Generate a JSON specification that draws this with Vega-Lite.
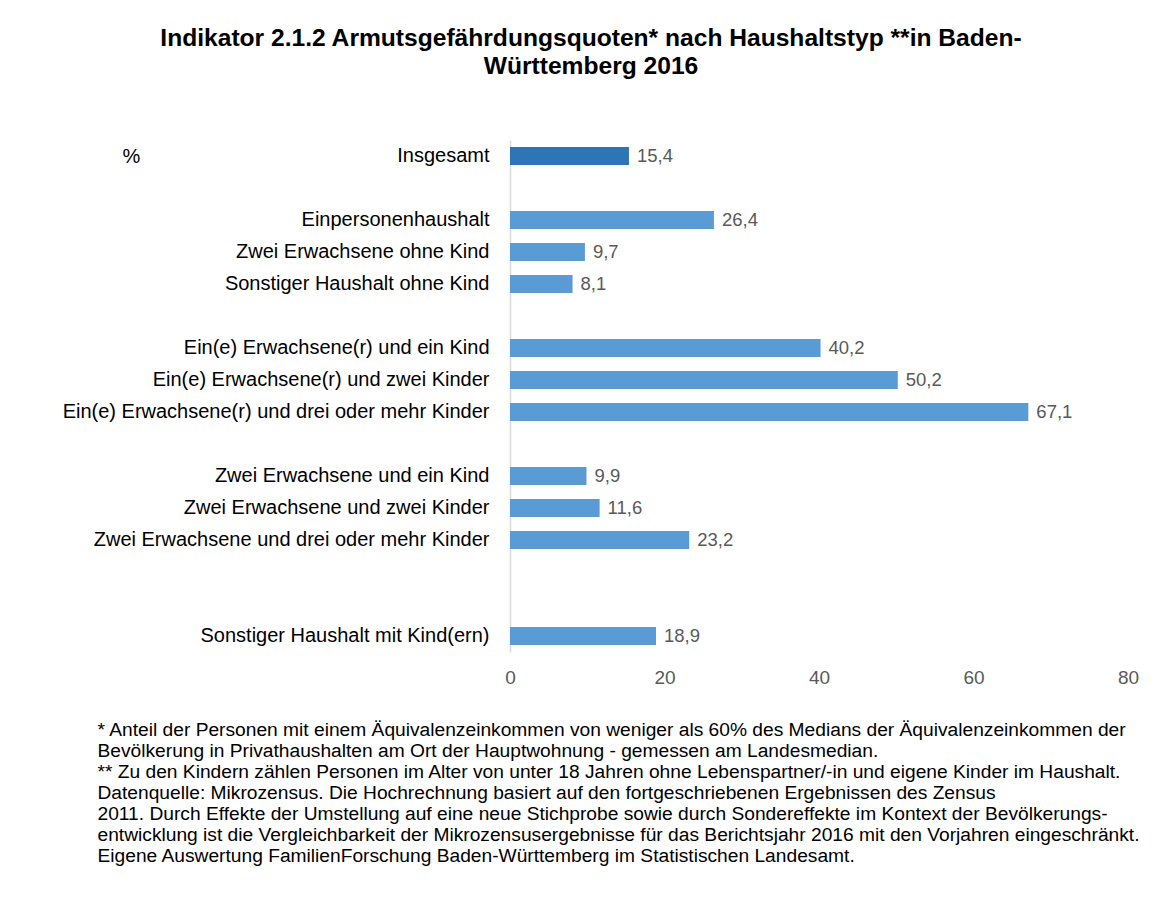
{
  "$schema": "https://vega.github.io/schema/vega-lite/v6.json",
  "autosize": {"type": "none"},
  "padding": {"left": 510, "top": 140, "right": 37, "bottom": 270},
  "width": 618,
  "height": 512,
  "background": "white",
  "config": {
    "font": "Liberation Sans",
    "view": {"stroke": null},
    "locale": {"number": {"decimal": ",", "thousands": ".", "grouping": [3], "currency": ["", " €"]}}
  },
  "title": {
    "text": ["Indikator 2.1.2 Armutsgefährdungsquoten* nach Haushaltstyp **in Baden-", "Württemberg 2016"],
    "anchor": "middle",
    "frame": "group",
    "dx": -228,
    "fontSize": 24.6,
    "fontWeight": "bold",
    "color": "#000000",
    "lineHeight": 28,
    "offset": 60
  },
  "data": {
    "values": [
      {"label": "Insgesamt", "value": 15.4},
      {"label": "Einpersonenhaushalt", "value": 26.4},
      {"label": "Zwei Erwachsene ohne Kind", "value": 9.7},
      {"label": "Sonstiger Haushalt ohne Kind", "value": 8.1},
      {"label": "Ein(e) Erwachsene(r) und ein Kind", "value": 40.2},
      {"label": "Ein(e) Erwachsene(r) und zwei Kinder", "value": 50.2},
      {"label": "Ein(e) Erwachsene(r) und drei oder mehr Kinder", "value": 67.1},
      {"label": "Zwei Erwachsene und ein Kind", "value": 9.9},
      {"label": "Zwei Erwachsene und zwei Kinder", "value": 11.6},
      {"label": "Zwei Erwachsene und drei oder mehr Kinder", "value": 23.2},
      {"label": "Sonstiger Haushalt mit Kind(ern)", "value": 18.9}
    ]
  },
  "encoding": {
    "y": {
      "field": "label",
      "type": "nominal",
      "sort": null,
      "scale": {
        "domain": ["Insgesamt", "gap1", "Einpersonenhaushalt", "Zwei Erwachsene ohne Kind", "Sonstiger Haushalt ohne Kind", "gap2", "Ein(e) Erwachsene(r) und ein Kind", "Ein(e) Erwachsene(r) und zwei Kinder", "Ein(e) Erwachsene(r) und drei oder mehr Kinder", "gap3", "Zwei Erwachsene und ein Kind", "Zwei Erwachsene und zwei Kinder", "Zwei Erwachsene und drei oder mehr Kinder", "gap4", "gap5", "Sonstiger Haushalt mit Kind(ern)"],
        "paddingInner": 0.44,
        "paddingOuter": 0.22
      },
      "axis": {
        "title": "%",
        "titleAngle": 0,
        "titleAlign": "left",
        "titleBaseline": "middle",
        "titleX": -388,
        "titleY": 16,
        "titleFontSize": 20,
        "titleFontWeight": "normal",
        "titleColor": "#000000",
        "labelExpr": "indexof(datum.value, 'gap') === 0 ? '' : datum.value",
        "labelFontSize": 20,
        "labelColor": "#000000",
        "labelPadding": 21,
        "labelLimit": 500,
        "ticks": false,
        "domainColor": "#D9D9D9",
        "domainWidth": 1.5
      }
    },
    "x": {
      "field": "value",
      "type": "quantitative",
      "scale": {"domain": [0, 80], "nice": false},
      "axis": {
        "values": [0, 20, 40, 60, 80],
        "grid": false,
        "domain": false,
        "ticks": false,
        "labelFontSize": 19,
        "labelColor": "#595959",
        "labelPadding": 16,
        "labelFlush": false,
        "title": [
          "* Anteil der Personen mit einem Äquivalenzeinkommen von weniger als 60% des Medians der Äquivalenzeinkommen der",
          "Bevölkerung in Privathaushalten  am Ort der Hauptwohnung  - gemessen am Landesmedian.",
          "** Zu den Kindern zählen  Personen im Alter von unter 18 Jahren ohne Lebenspartner/-in und eigene Kinder im Haushalt.",
          "Datenquelle: Mikrozensus.  Die Hochrechnung  basiert auf den fortgeschriebenen Ergebnissen des Zensus",
          "2011. Durch Effekte der Umstellung auf eine neue Stichprobe sowie durch Sondereffekte im Kontext der Bevölkerungs-",
          "entwicklung  ist die Vergleichbarkeit der Mikrozensusergebnisse für das Berichtsjahr 2016 mit den Vorjahren eingeschränkt.",
          "Eigene Auswertung FamilienForschung Baden-Württemberg im Statistischen Landesamt."
        ],
        "titleAnchor": "start",
        "titleAlign": "left",
        "titleBaseline": "alphabetic",
        "titleX": -413,
        "titleY": 83,
        "titleFontSize": 19.2,
        "titleFontWeight": "normal",
        "titleColor": "#000000",
        "titleLineHeight": 21
      }
    }
  },
  "layer": [
    {
      "mark": {"type": "bar"},
      "encoding": {
        "color": {"condition": {"test": "datum.label === 'Insgesamt'", "value": "#2E75B6"}, "value": "#5B9BD5"}
      }
    },
    {
      "mark": {"type": "text", "align": "left", "baseline": "middle", "dx": 8, "fontSize": 18.5, "color": "#595959"},
      "encoding": {
        "text": {"field": "value", "type": "quantitative", "format": ".1f"}
      }
    }
  ]
}
